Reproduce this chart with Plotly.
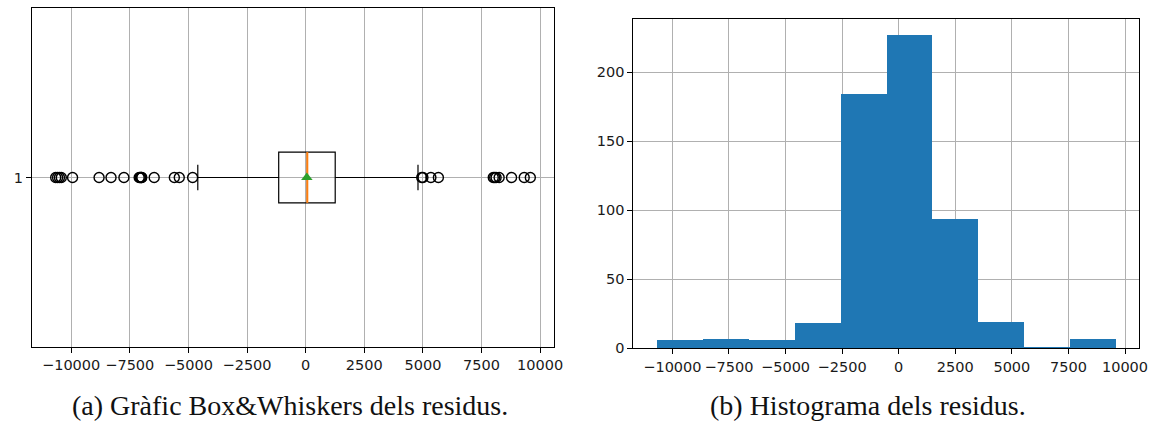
import plotly.graph_objects as go

# ---------------- data ----------------
# Box & whiskers statistics of the residuals
box_q1 = -1150
box_median = 70
box_q3 = 1260
box_lowerfence = -4600
box_upperfence = 4790
box_mean = 50
outliers = [-10660, -10580, -10500, -10420, -9940, -8810,
            -8300, -7750, -7100, -7060, -7030, -7000, -6990,
            -6460, -5600, -5390, -4820,
            4950, 5000, 5340, 5660,
            8000, 8060, 8120, 8250, 8780, 9320, 9580]

# Histogram of the residuals (10 bins)
bin_edges = [-10660, -8635, -6610, -4585, -2560, -535, 1490, 3515, 5540, 7565, 9590]
counts = [6, 7, 6, 18, 184, 227, 94, 19, 1, 7]

x_ticks = [-10000, -7500, -5000, -2500, 0, 2500, 5000, 7500, 10000]
x_ticklabels = ["\u221210000", "\u22127500", "\u22125000", "\u22122500", "0",
                "2500", "5000", "7500", "10000"]
hist_yticks = [0, 50, 100, 150, 200]

caption_a = "(a) Gràfic Box&Whiskers dels residus."
caption_b = "(b) Histograma dels residus."

# ---------------- styling ----------------
BOX_WIDTH = 0.15
GRID = "#b0b0b0"
TICKFONT = dict(family="DejaVu Sans", size=14.5, color="#1a1a1a")
BLUE = "#1f77b4"

fig = go.Figure()

# box
fig.add_trace(go.Box(
    y=[1], q1=[box_q1], median=[box_median], q3=[box_q3],
    lowerfence=[box_lowerfence], upperfence=[box_upperfence],
    orientation="h", width=BOX_WIDTH, whiskerwidth=0.5,
    line=dict(color="black", width=1.2), fillcolor="rgba(0,0,0,0)",
    boxpoints=False, showlegend=False, hoverinfo="skip",
    xaxis="x", yaxis="y",
))
# median line (orange)
fig.add_trace(go.Scatter(
    x=[box_median, box_median], y=[1 - BOX_WIDTH / 2, 1 + BOX_WIDTH / 2],
    mode="lines", line=dict(color="#ff7f0e", width=2),
    showlegend=False, hoverinfo="skip", xaxis="x", yaxis="y",
))
# outliers
fig.add_trace(go.Scatter(
    x=outliers, y=[1] * len(outliers), mode="markers",
    marker=dict(symbol="circle-open", size=10, color="black", line=dict(width=1.4)),
    showlegend=False, hoverinfo="skip", xaxis="x", yaxis="y",
))
# mean
fig.add_trace(go.Scatter(
    x=[box_mean], y=[1], mode="markers",
    marker=dict(symbol="triangle-up", size=10, color="#2ca02c"),
    showlegend=False, hoverinfo="skip", xaxis="x", yaxis="y",
))

# histogram
centers = [(a + b) / 2 for a, b in zip(bin_edges[:-1], bin_edges[1:])]
widths = [b - a for a, b in zip(bin_edges[:-1], bin_edges[1:])]
fig.add_trace(go.Bar(
    x=centers, y=counts, width=widths,
    marker=dict(color=BLUE, line=dict(width=0)),
    showlegend=False, hoverinfo="skip", xaxis="x2", yaxis="y2",
))

common_axis = dict(
    showline=True, mirror=True, linecolor="black", linewidth=1,
    ticks="outside", ticklen=5, tickwidth=1, tickcolor="black",
    showgrid=True, gridcolor=GRID, gridwidth=1, zeroline=False,
    tickfont=TICKFONT, automargin=False,
)

fig.update_layout(
    width=1154, height=430,
    margin=dict(l=0, r=0, t=0, b=0),
    paper_bgcolor="white", plot_bgcolor="white",
    bargap=0,
    xaxis=dict(domain=[32 / 1154, 554 / 1154], anchor="y",
               range=[-11670, 10590], tickvals=x_ticks, ticktext=x_ticklabels,
               **common_axis),
    yaxis=dict(domain=[(430 - 347) / 430, (430 - 8) / 430], anchor="x",
               range=[0.5, 1.5], tickvals=[1], ticktext=["1"],
               **common_axis),
    xaxis2=dict(domain=[633.3 / 1154, 1138.7 / 1154], anchor="y2",
                range=[-11728, 10605], tickvals=x_ticks, ticktext=x_ticklabels,
                layer="above traces", **common_axis),
    yaxis2=dict(domain=[(430 - 348.3) / 430, (430 - 19.3) / 430], anchor="x2",
                range=[0, 238.4], tickvals=hist_yticks,
                ticktext=[str(v) for v in hist_yticks],
                layer="above traces", **common_axis),
    annotations=[
        dict(text=caption_a, x=290 / 1154, y=(430 - 405) / 430, xref="paper", yref="paper",
             xanchor="center", yanchor="middle", showarrow=False,
             font=dict(family="Liberation Serif", size=28, color="#111")),
        dict(text=caption_b, x=868 / 1154, y=(430 - 405) / 430, xref="paper", yref="paper",
             xanchor="center", yanchor="middle", showarrow=False,
             font=dict(family="Liberation Serif", size=28, color="#111")),
    ],
)

fig.write_html(
    "out.html",
    config={"displayModeBar": False, "staticPlot": True},
    post_script="document.body.style.margin='0';document.body.style.overflow='hidden';",
)
